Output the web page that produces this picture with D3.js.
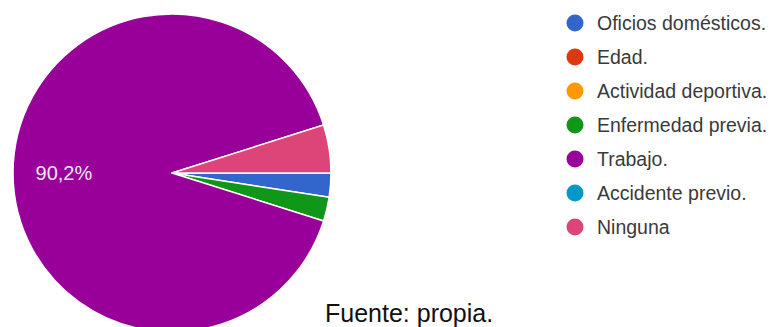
<!DOCTYPE html>
<html>
<head>
<meta charset="utf-8">
<script src="https://cdn.jsdelivr.net/npm/d3@7"></script>
<style>
  html, body { margin: 0; padding: 0; background: #fff; }
  svg { display: block; }
</style>
</head>
<body>
<svg id="chart" width="784" height="327"></svg>
<script>
const categories = ["Oficios domésticos.", "Edad.", "Actividad deportiva.", "Enfermedad previa.", "Trabajo.", "Accidente previo.", "Ninguna"];
const counts = [1, 0, 0, 1, 37, 0, 2];
const colors = ["#3366cc", "#dc3912", "#ff9900", "#109618", "#990099", "#0099c6", "#dd4477"];
const sourceText = "Fuente: propia.";

const svg = d3.select("#chart");
const cx = 172, cy = 173, r = 159;
const total = d3.sum(counts);
const data = categories.map((c, i) => ({ name: c, value: counts[i], color: colors[i] }));

const pie = d3.pie().value(d => d.value).sort(null)
  .startAngle(Math.PI / 2).endAngle(Math.PI / 2 + 2 * Math.PI);
const arc = d3.arc().innerRadius(0).outerRadius(r);
const arcs = pie(data);

const g = svg.append("g").attr("transform", `translate(${cx},${cy})`);
g.selectAll("path").data(arcs.filter(d => d.data.value > 0)).join("path")
  .attr("d", arc)
  .attr("fill", d => d.data.color)
  .attr("stroke", "#fff")
  .attr("stroke-width", 1.5)
  .attr("stroke-linejoin", "round");

const fmt = v => (Math.round(v * 1000) / 10).toFixed(1).replace(".", ",") + "%";
const labelArc = d3.arc().innerRadius(r * 0.68).outerRadius(r * 0.68);
g.selectAll("text.lbl").data(arcs.filter(d => d.data.value / total > 0.05)).join("text")
  .attr("class", "lbl")
  .attr("x", d => labelArc.centroid(d)[0])
  .attr("y", d => labelArc.centroid(d)[1])
  .attr("text-anchor", "middle")
  .attr("dominant-baseline", "central")
  .attr("font-family", "Arial, 'Liberation Sans', sans-serif")
  .attr("font-size", 20)
  .attr("fill", "#f4e6f4")
  .text(d => fmt(d.data.value / total));

const y = d3.scalePoint().domain(categories).range([23, 227]);
const leg = svg.append("g");
const items = leg.selectAll("g").data(data).join("g")
  .attr("transform", d => `translate(575,${y(d.name)})`);
items.append("circle").attr("r", 8.5).attr("fill", d => d.color);
items.append("text")
  .attr("x", 22)
  .attr("dy", "0.36em")
  .attr("font-family", "Arial, 'Liberation Sans', sans-serif")
  .attr("font-size", 19.5)
  .attr("fill", "#3a3a3a")
  .text(d => d.name);

svg.append("text")
  .attr("x", 325).attr("y", 322)
  .attr("font-family", "Arial, 'Liberation Sans', sans-serif")
  .attr("font-size", 25)
  .attr("fill", "#111")
  .text(sourceText);
</script>
</body>
</html>
